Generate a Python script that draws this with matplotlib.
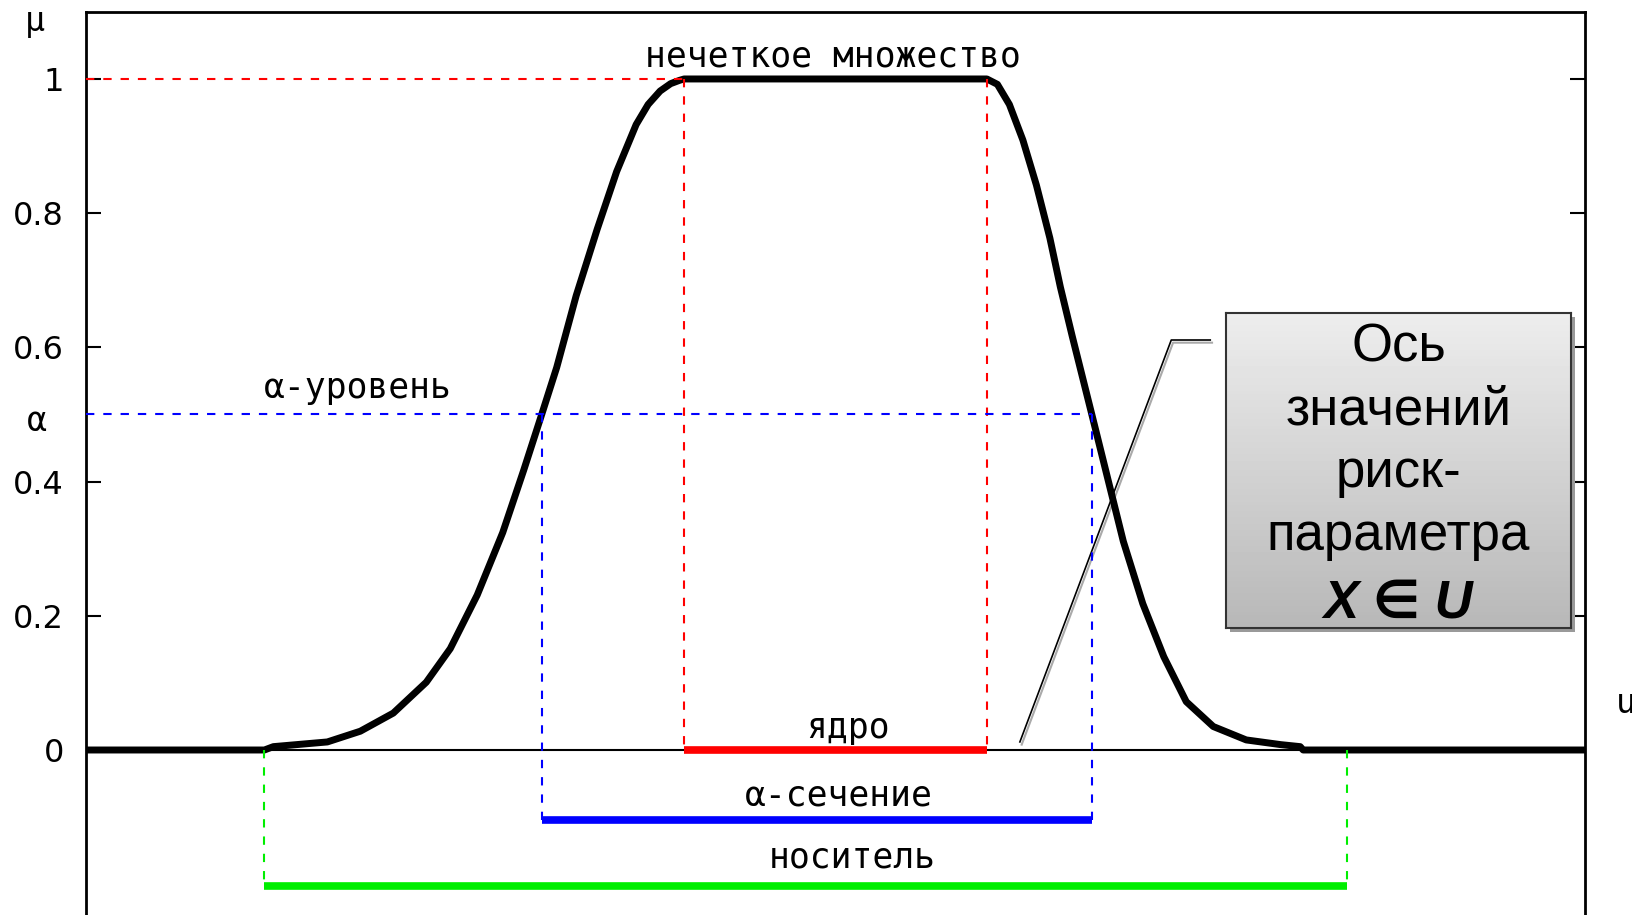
import numpy as np
import matplotlib.pyplot as plt
from matplotlib.patches import Rectangle

# membership function (u in 0..10 across the axes)
u_curve = [0, 1.19, 1.25, 1.61, 1.83, 2.05, 2.27, 2.43, 2.61, 2.78, 2.92, 3.04, 3.14,
           3.27, 3.41, 3.54, 3.67, 3.75, 3.83, 3.90, 3.96, 3.99, 6.01, 6.08, 6.16,
           6.25, 6.34, 6.43, 6.50, 6.58, 6.71, 6.81, 6.92, 7.05, 7.19, 7.34, 7.52,
           7.74, 7.97, 8.10, 8.12, 10]
mu_curve = [0, 0, 0.005, 0.012, 0.028, 0.055, 0.101, 0.151, 0.231, 0.324, 0.417, 0.5,
            0.57, 0.677, 0.776, 0.862, 0.932, 0.962, 0.982, 0.993, 0.998, 1.0, 1.0,
            0.992, 0.962, 0.909, 0.842, 0.763, 0.69, 0.616, 0.5, 0.41, 0.311, 0.218,
            0.139, 0.072, 0.035, 0.015, 0.008, 0.005, 0, 0]

alpha = 0.5
core = [3.99, 6.01]
alpha_cut = [3.04, 6.71]
support = [1.19, 8.41]
cut_level = -0.104
support_level = -0.203

yticks = [0, 0.2, 0.4, 0.6, 0.8, 1]
ytick_labels = ["0", "0.2", "0.4", "0.6", "0.8", "1"]

box_lines = "Ось\nзначений\nриск-\nпараметра"

W, H = 1633, 915
fig = plt.figure(figsize=(W / 100, H / 100), dpi=100)
ax = fig.add_axes([86 / W, 0, (1585 - 86) / W, (915 - 12) / H])
ax.set_xlim(0, 10)
ax.set_ylim(-0.2459, 1.0998)

pix = "DejaVu Sans Mono"
dash = (4, 4.3)

# thin zero line
ax.axhline(0, color="black", lw=1.5, zorder=2)

# curve
ax.plot(u_curve, mu_curve, color="black", lw=5, zorder=3, solid_capstyle="butt",
        solid_joinstyle="round")

# dashed helpers
ax.plot([0, core[0]], [1, 1], color="red", lw=1.5, dashes=dash, zorder=4)
for c in core:
    ax.plot([c, c], [1, 0], color="red", lw=1.5, dashes=dash, zorder=4)
ax.plot([0, alpha_cut[1]], [alpha, alpha], color="blue", lw=1.5, dashes=dash, zorder=4)
for c in alpha_cut:
    ax.plot([c, c], [alpha, cut_level], color="blue", lw=1.5, dashes=dash, zorder=4)
for c in support:
    ax.plot([c, c], [0, support_level], color="#00ee00", lw=1.5, dashes=dash, zorder=4)

# bars
ax.plot(core, [0, 0], color="red", lw=5.5, zorder=5, solid_capstyle="butt")
ax.plot(alpha_cut, [cut_level, cut_level], color="blue", lw=5.5, zorder=5, solid_capstyle="butt")
ax.plot(support, [support_level, support_level], color="#00ee00", lw=5.5, zorder=5,
        solid_capstyle="butt")

# labels
ax.text(4.98, 1.034, "нечеткое множество", family=pix, fontsize=25, ha="center", va="center")
ax.text(1.81, 0.539, "α-уровень", family=pix, fontsize=25, ha="center", va="center")
ax.text(5.08, 0.033, "ядро", family=pix, fontsize=25, ha="center", va="center")
ax.text(5.02, -0.068, "α-сечение", family=pix, fontsize=25, ha="center", va="center")
ax.text(5.11, -0.16, "носитель", family=pix, fontsize=25, ha="center", va="center")
ax.text(-0.34, 1.085, "μ", family=pix, fontsize=24, ha="center", va="center", clip_on=False)
ax.text(-0.33, 0.49, "α", family=pix, fontsize=24, ha="center", va="center", clip_on=False)
ax.text(10.27, 0.069, "u", family=pix, fontsize=24, ha="center", va="center", clip_on=False)

# callout line with light shadow
cx = [6.23, 7.24, 7.50]
cy = [0.012, 0.611, 0.611]
ax.plot(np.array(cx) + 0.012, np.array(cy) - 0.004, color="#aaaaaa", lw=1.5, zorder=2)
ax.plot(cx, cy, color="black", lw=1.2, zorder=2)

# axes styling
ax.set_xticks([])
ax.set_yticks(yticks)
ax.set_yticklabels(ytick_labels, family="DejaVu Sans", fontsize=23)
ax.tick_params(axis="y", direction="in", length=11, width=1.5, pad=16, right=True)
for s in ["left", "right", "top"]:
    ax.spines[s].set_linewidth(2)
ax.spines["bottom"].set_visible(False)

# gradient box
bx0, bx1 = 1226 / W, 1571 / W
by0, by1 = 1 - 628 / H, 1 - 313 / H
fig.patches.append(Rectangle((bx0 + 4 / W, by0 - 4 / H), bx1 - bx0, by1 - by0,
                             transform=fig.transFigure, facecolor="#9a9a9a",
                             edgecolor="none", zorder=5))
bax = fig.add_axes([bx0, by0, bx1 - bx0, by1 - by0], zorder=6)
grad = np.linspace(0.93, 0.72, 100).reshape(-1, 1)
bax.imshow(np.repeat(grad, 2, axis=1), cmap="gray", vmin=0, vmax=1, aspect="auto",
           extent=[0, 1, 0, 1], origin="upper")
bax.set_xticks([])
bax.set_yticks([])
for s in bax.spines.values():
    s.set_linewidth(1.5)
    s.set_color("#333333")

fig.text((bx0 + bx1) / 2, 1 - 442 / H, box_lines, family=["Liberation Sans", "DejaVu Sans"],
         fontsize=38, ha="center", va="center", linespacing=1.33, zorder=7)
fig.text((bx0 + bx1) / 2, 1 - 603 / H, "X ∈ U", family=["Liberation Sans", "DejaVu Sans"],
         fontsize=38, fontweight="bold", style="italic", ha="center", va="center", zorder=7)

fig.savefig("out.png", dpi=100)
